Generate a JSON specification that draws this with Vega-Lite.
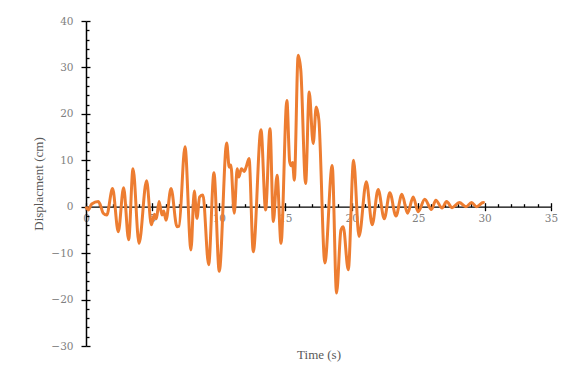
{
  "$schema": "https://vega.github.io/schema/vega-lite/v6.json",
  "width": 465,
  "height": 325,
  "autosize": "none",
  "padding": {"left": 86, "top": 21, "right": 21, "bottom": 26},
  "background": "white",
  "config": {"view": {"stroke": null}, "axis": {"grid": false}},
  "data": {
    "values": [
      {"t": 0, "v": 0}, {"t": 0.17, "v": -0.7}, {"t": 0.43, "v": 0.6}, {"t": 0.93, "v": 1.1},
      {"t": 1.05, "v": 0.6}, {"t": 1.3, "v": -1.4}, {"t": 1.56, "v": -1.8}, {"t": 2.0, "v": 3.9},
      {"t": 2.43, "v": -5.4}, {"t": 2.83, "v": 4.1}, {"t": 3.21, "v": -7.1}, {"t": 3.54, "v": 8.2},
      {"t": 3.99, "v": -7.9}, {"t": 4.56, "v": 5.6}, {"t": 4.92, "v": -3.9}, {"t": 5.15, "v": -1.6},
      {"t": 5.3, "v": -2.6}, {"t": 5.5, "v": 1.1}, {"t": 5.72, "v": -1.8}, {"t": 5.85, "v": -0.9},
      {"t": 6.02, "v": -2.9}, {"t": 6.4, "v": 3.9}, {"t": 6.85, "v": -4.3}, {"t": 7.0, "v": -4.2},
      {"t": 7.45, "v": 12.9}, {"t": 7.9, "v": -9.3}, {"t": 8.15, "v": 3.4}, {"t": 8.35, "v": -2.5},
      {"t": 8.55, "v": 2.1}, {"t": 8.8, "v": 2.5}, {"t": 9.23, "v": -12.5}, {"t": 9.63, "v": 7.3},
      {"t": 10.03, "v": -13.9}, {"t": 10.59, "v": 13.7}, {"t": 10.78, "v": 8.5}, {"t": 10.9, "v": 9.0},
      {"t": 11.16, "v": -1.4}, {"t": 11.38, "v": 8.2}, {"t": 11.5, "v": 6.4}, {"t": 11.7, "v": 8.2},
      {"t": 11.9, "v": 7.6}, {"t": 12.05, "v": 8.5}, {"t": 12.27, "v": 10.4}, {"t": 12.59, "v": -9.7},
      {"t": 13.17, "v": 16.6}, {"t": 13.52, "v": -0.7}, {"t": 13.85, "v": 16.8}, {"t": 14.1, "v": -3.2},
      {"t": 14.38, "v": 6.8}, {"t": 14.68, "v": -7.9}, {"t": 15.12, "v": 22.9}, {"t": 15.33, "v": 9.7},
      {"t": 15.45, "v": 8.8}, {"t": 15.55, "v": 9.5}, {"t": 15.68, "v": 5.7}, {"t": 15.97, "v": 32.6},
      {"t": 16.17, "v": 29.3}, {"t": 16.53, "v": 5.0}, {"t": 16.8, "v": 24.7}, {"t": 17.1, "v": 13.6},
      {"t": 17.33, "v": 21.5}, {"t": 17.53, "v": 18.6}, {"t": 17.98, "v": -12.1}, {"t": 18.53, "v": 8.9},
      {"t": 18.86, "v": -18.6}, {"t": 19.19, "v": -5.0}, {"t": 19.36, "v": -4.3}, {"t": 19.74, "v": -13.6},
      {"t": 20.14, "v": 10.0}, {"t": 20.55, "v": -6.4}, {"t": 21.1, "v": 5.4}, {"t": 21.54, "v": -3.9},
      {"t": 21.99, "v": 3.7}, {"t": 22.45, "v": -2.6}, {"t": 22.87, "v": 3.0}, {"t": 23.33, "v": -2.0},
      {"t": 23.78, "v": 2.7}, {"t": 24.2, "v": -1.4}, {"t": 24.63, "v": 2.1}, {"t": 25.0, "v": -1.1},
      {"t": 25.5, "v": 1.6}, {"t": 26.0, "v": -0.6}, {"t": 26.33, "v": 1.4}, {"t": 26.8, "v": -0.3},
      {"t": 27.14, "v": 1.1}, {"t": 27.56, "v": -0.2}, {"t": 28.1, "v": 0.9}, {"t": 28.6, "v": 0.0},
      {"t": 29.02, "v": 0.9}, {"t": 29.4, "v": 0.0}, {"t": 29.9, "v": 0.9}, {"t": 30.0, "v": 0.8}
    ]
  },
  "layer": [
    {
      "mark": {"type": "line", "color": "#ED7D31", "strokeWidth": 3, "interpolate": "monotone"},
      "encoding": {
        "x": {
          "field": "t", "type": "quantitative",
          "scale": {"domain": [0, 35], "nice": false, "zero": false},
          "axis": {
            "orient": "bottom", "offset": -139.3,
            "values": [0, 5, 10, 15, 20, 25, 30, 35],
            "tickSize": 4, "tickWidth": 1.3, "tickColor": "#000000",
            "domainColor": "#000000", "domainWidth": 1.3,
            "labelFont": "DejaVu Serif", "labelFontSize": 10.5, "labelColor": "#808080",
            "labelPadding": 3, "labelFlush": false, "labelOverlap": false,
            "title": "Time (s)", "titleFont": "Liberation Serif", "titleFontSize": 13,
            "titleFontWeight": "normal", "titleColor": "#595959",
            "titleY": 148, "titleBaseline": "middle"
          }
        },
        "y": {
          "field": "v", "type": "quantitative",
          "scale": {"domain": [-30, 40], "nice": false},
          "axis": {
            "orient": "left",
            "values": [-30, -20, -10, 0, 10, 20, 30, 40],
            "tickSize": 5, "tickWidth": 1.3, "tickColor": "#000000",
            "domainColor": "#000000", "domainWidth": 1.5,
            "labelFont": "DejaVu Serif", "labelFontSize": 10.5, "labelColor": "#808080",
            "labelPadding": 8, "labelFlush": false, "labelOverlap": false,
            "title": "Displacment (cm)", "titleFont": "Liberation Serif", "titleFontSize": 13,
            "titleFontWeight": "normal", "titleColor": "#595959",
            "titleX": -48, "titleBaseline": "middle"
          }
        }
      }
    },
    {
      "mark": {"type": "line", "opacity": 0},
      "encoding": {
        "x": {
          "field": "t", "type": "quantitative",
          "axis": {
            "orient": "top", "offset": -185.7,
            "values": [0, 1, 2, 3, 4, 5, 6, 7, 8, 9, 10, 11, 12, 13, 14, 15, 16, 17, 18, 19, 20, 21, 22, 23, 24, 25, 26, 27, 28, 29, 30, 31, 32, 33, 34, 35],
            "tickSize": {"condition": {"test": "datum.value % 5 === 0", "value": 4}, "value": 3},
            "tickWidth": 1.3, "tickColor": "#000000",
            "labels": false, "domain": false, "title": null
          }
        },
        "y": {
          "field": "v", "type": "quantitative",
          "axis": {
            "orient": "right", "offset": -465,
            "values": [-30, -28, -26, -24, -22, -20, -18, -16, -14, -12, -10, -8, -6, -4, -2, 0, 2, 4, 6, 8, 10, 12, 14, 16, 18, 20, 22, 24, 26, 28, 30, 32, 34, 36, 38, 40],
            "tickSize": {"condition": {"test": "datum.value % 10 === 0", "value": 4}, "value": 3},
            "tickWidth": 1.3, "tickColor": "#000000",
            "labels": false, "domain": false, "title": null
          }
        }
      }
    }
  ],
  "resolve": {"axis": {"x": "independent", "y": "independent"}}
}
